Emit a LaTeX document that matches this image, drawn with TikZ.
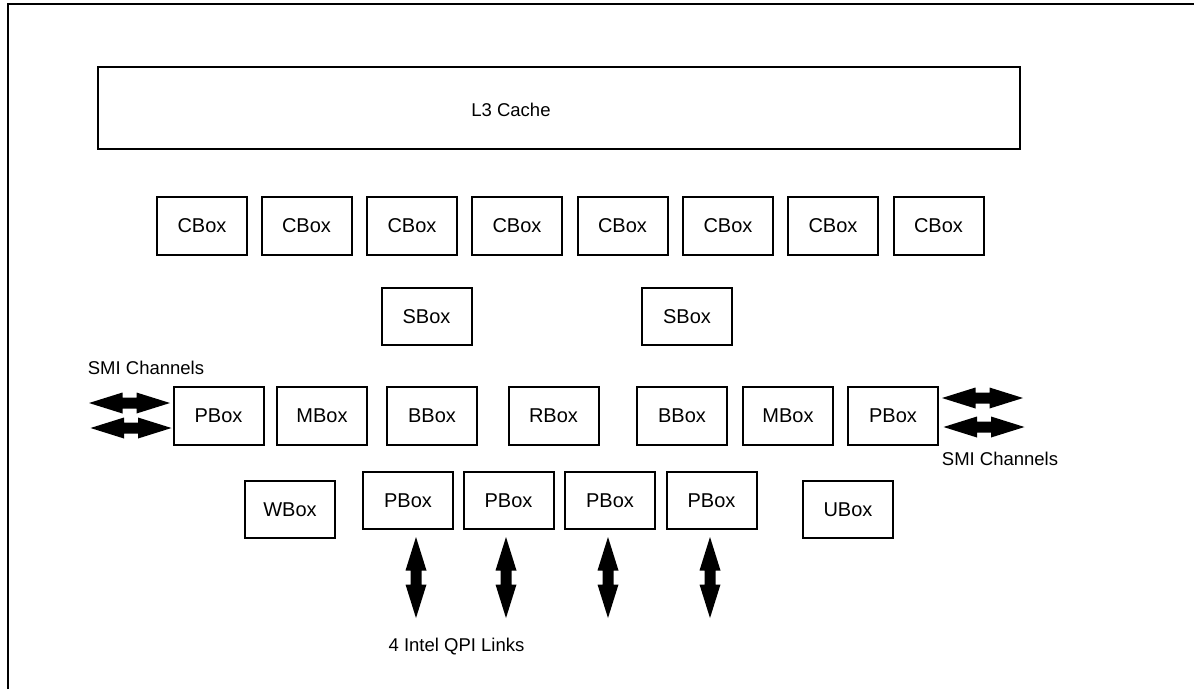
\documentclass[tikz,border=0pt]{standalone}
\usepackage{fontspec}
\setmainfont{Liberation Sans}
\begin{document}
\begin{tikzpicture}[x=1pt,y=-1pt,
  unit/.style={draw,line width=2pt,minimum width=90pt,minimum height=57pt,inner sep=0pt,font=\fontsize{20}{24}\selectfont},
  lbl/.style={inner sep=0pt,font=\fontsize{18.5}{22}\selectfont},
  dblarrow/.pic={\fill (-40.5,0) -- (-7,10.5) -- (-7,5.5) -- (7,5.5) -- (7,10.5) -- (40.5,0) -- (7,-10.5) -- (7,-5.5) -- (-7,-5.5) -- (-7,-10.5) -- cycle;}]
\useasboundingbox (0,0) rectangle (1194,689);
% frame
\draw[line width=2.5pt] (8,689) -- (8,4) -- (1194,4);
% L3 cache
\node[draw,line width=2pt,minimum width=922pt,minimum height=82pt,inner sep=0pt] (l3) at (559,108) {};
\node[lbl] (l3t) at (511,110) {L3 Cache};
% CBoxes
\foreach \x [count=\i] in {202,306.5,412,517,622.5,728,833,938.5}
  \node[unit,minimum height=58pt] (c\i) at (\x,226) {CBox};
% SBoxes
\node[unit] (s1) at (426.5,316.5) {SBox};
\node[unit] (s2) at (687,316.5) {SBox};
% middle row
\node[unit,minimum height=58pt] (p1) at (218.5,416) {PBox};
\node[unit,minimum height=58pt] (m1) at (322,416) {MBox};
\node[unit,minimum height=58pt] (b1) at (432,416) {BBox};
\node[unit,minimum height=58pt] (r1) at (553.5,416) {RBox};
\node[unit,minimum height=58pt] (b2) at (682,416) {BBox};
\node[unit,minimum height=58pt] (m2) at (788,416) {MBox};
\node[unit,minimum height=58pt] (p2) at (893,416) {PBox};
% bottom row
\node[unit] (w1) at (290,509.5) {WBox};
\node[unit] (q1) at (408,500.5) {PBox};
\node[unit] (q2) at (508.5,500.5) {PBox};
\node[unit] (q3) at (610,500.5) {PBox};
\node[unit] (q4) at (711.5,500.5) {PBox};
\node[unit] (u1) at (848,509.5) {UBox};
% SMI arrows
\pic at (129.5,403) {dblarrow};
\pic at (131,428) {dblarrow};
\pic at (982.5,398) {dblarrow};
\pic at (984,427) {dblarrow};
% QPI arrows
\foreach \x in {416,506,608,710}
  \pic[rotate=90] at (\x,577.5) {dblarrow};
% labels
\node[lbl] (smil) at (146,368) {SMI Channels};
\node[lbl] (smir) at (1000,459) {SMI Channels};
\node[lbl] (qpi) at (456.5,647) {4 Intel QPI Links};
\end{tikzpicture}
\end{document}
